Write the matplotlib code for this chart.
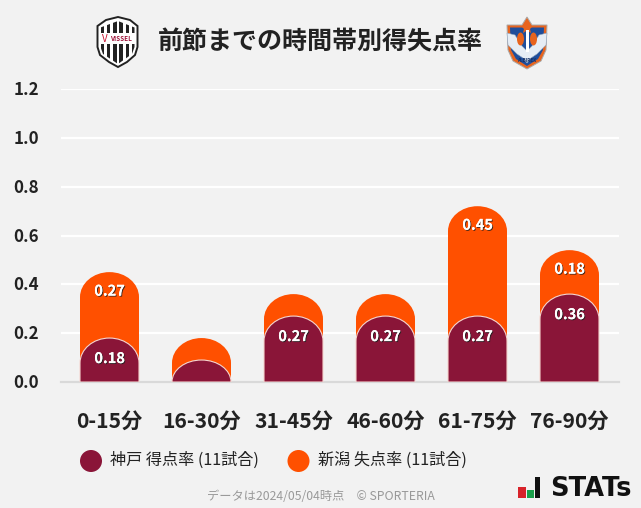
import numpy as np
import matplotlib
matplotlib.use("Agg")
import matplotlib.pyplot as plt
from matplotlib.path import Path
from matplotlib.patches import PathPatch, Ellipse, Polygon, Rectangle
from matplotlib.transforms import ScaledTranslation
import matplotlib.patheffects as pe

plt.rcParams['font.family'] = ['Noto Sans CJK JP', 'DejaVu Sans']

categories = ['0-15分', '16-30分', '31-45分', '46-60分', '61-75分', '76-90分']
kobe_scored = [0.18, 0.09, 0.27, 0.27, 0.27, 0.36]
niigata_conceded = [0.27, 0.09, 0.09, 0.09, 0.45, 0.18]
kobe_labels = ['0.18', '', '0.27', '0.27', '0.27', '0.36']
niigata_labels = ['0.27', '', '', '', '0.45', '0.18']
yticks = [0, 0.2, 0.4, 0.6, 0.8, 1.0, 1.2]
title = '前節までの時間帯別得失点率'
legend_labels = ['神戸 得点率 (11試合)', '新潟 失点率 (11試合)']
footer = 'データは2024/05/04時点　© SPORTERIA'

BG = '#f2f2f2'
DARK = '#8a1538'
ORANGE = '#ff5000'
W, H = 641, 508

fig = plt.figure(figsize=(W/100, H/100), dpi=100, facecolor=BG)
ov = fig.add_axes([0, 0, 1, 1], zorder=0)
ov.set_xlim(0, W); ov.set_ylim(H, 0); ov.axis('off')

ax = fig.add_axes([61/W, (H-382)/H, (619-61)/W, (382-89)/H], zorder=1)
ax.patch.set_alpha(0)
ax.set_xlim((61-109.5)/92, (619-109.5)/92)
ax.set_ylim(0, 1.2)

PX_PER_UNIT = 293/1.2
BAR_W = 59/92
RY = 25/PX_PER_UNIT

def round_bar(x, top, width=BAR_W):
    hw = width/2
    ry = min(RY, top)
    k = 0.5523
    verts = [(x-hw, 0), (x-hw, top-ry),
             (x-hw, top-ry+k*ry), (x-k*hw, top), (x, top),
             (x+k*hw, top), (x+hw, top-ry+k*ry), (x+hw, top-ry),
             (x+hw, 0), (x-hw, 0)]
    codes = [Path.MOVETO, Path.LINETO, Path.CURVE4, Path.CURVE4, Path.CURVE4,
             Path.CURVE4, Path.CURVE4, Path.CURVE4, Path.LINETO, Path.CLOSEPOLY]
    return Path(verts, codes)

for y in yticks[1:]:
    ax.axhline(y, color='white', lw=1.6, zorder=1)
ax.axhline(0, color='#d9d9d9', lw=1.6, zorder=1, clip_on=False)

shadow = [pe.withSimplePatchShadow(offset=(0.7, -0.7), shadow_rgbFace='#222222', alpha=0.85), pe.Normal()]
for i, (a, b) in enumerate(zip(kobe_scored, niigata_conceded)):
    total = a + b
    ax.add_patch(PathPatch(round_bar(i, total), fc=ORANGE, ec='none', zorder=2))
    ax.add_patch(PathPatch(round_bar(i, a), fc=DARK, ec='#f5d5cf', lw=0.8, zorder=3))
    if kobe_labels[i]:
        ax.text(i, a-20/PX_PER_UNIT, kobe_labels[i], ha='center', va='center', color='white',
                fontsize=10.5, fontweight='bold', zorder=5, path_effects=shadow)
    if niigata_labels[i]:
        ax.text(i, total-18.5/PX_PER_UNIT, niigata_labels[i], ha='center', va='center', color='white',
                fontsize=10.5, fontweight='bold', zorder=5, path_effects=shadow)

for s in ax.spines.values():
    s.set_visible(False)
ax.set_xticks(range(len(categories)))
ax.set_xticklabels(categories, fontsize=15.2, fontweight='bold', color='#222222')
ax.tick_params(axis='x', length=0, pad=21)
ax.set_yticks(yticks)
ax.set_yticklabels([f'{v:.1f}' for v in yticks], fontsize=12.2, fontweight='bold', color='#222222')
ax.tick_params(axis='y', length=0, pad=16)
up = ScaledTranslation(0, 1/100, fig.dpi_scale_trans)
for lab in ax.get_yticklabels():
    lab.set_transform(lab.get_transform() + up)

# Title
ov.text(320.5, 42.5, title, ha='center', va='center', fontsize=18, fontweight='bold', color='#222222')

# Vissel crest
sx = [97.5, 106, 118, 130, 137.5, 137.5, 135, 127, 118, 109, 100, 97.5]
sy = [26, 20, 17, 20, 26, 47, 55, 62, 67, 62, 55, 47]
ov.add_patch(Polygon(list(zip(sx, sy)), closed=True, fc='white', ec='#222222', lw=1.4))
ix = [100.5, 118, 134.5, 134.5, 132, 118, 103, 100.5]
iy = [27.5, 21, 27.5, 47, 54, 64, 54, 47]
clip = Polygon(list(zip(ix, iy)), closed=True, transform=ov.transData)
for x0 in np.arange(100.8, 135, 6.2):
    r = Rectangle((x0, 18), 3.4, 50, fc='#222222', ec='none')
    ov.add_patch(r); r.set_clip_path(clip)
ov.add_patch(Rectangle((99.3, 33), 37, 11, fc='white', ec='none'))
ov.text(120.8, 38.7, 'VISSEL', ha='center', va='center', fontsize=4.6, fontweight='bold', color='#a0163c')
ov.text(104.5, 38.5, 'V', ha='center', va='center', fontsize=7, color='#c8102e')

# Albirex crest
ov.add_patch(Polygon([(507,25),(522,25),(527,17),(532,25),(547,25),(546,50),(541,61),(527,69),(513,61),(508,50)],
                     closed=True, fc='#e8641e', ec='#aaaaaa', lw=0.7))
ov.add_patch(Polygon([(510,27.5),(544,27.5),(543,50),(538,59),(527,66),(516,59),(511,50)],
                     closed=True, fc='#1f4e9c', ec='none'))
ov.add_patch(Polygon([(527,21),(529,26),(533,26),(530,29),(531,33),(527,30.5),(523,33),(524,29),(521,26),(525,26)],
                     closed=True, fc='#e8641e', ec='none'))
ov.add_patch(Polygon([(507,33),(515,35),(522,46),(527,51),(532,46),(539,35),(547,33),(546,45),(537,54),(531,58),(527,63),(523,58),(517,54),(508,45)],
                     closed=True, fc='#e6edf5', ec='#8fa5c0', lw=0.4))
ov.add_patch(Ellipse((520.5, 39), 7, 13, fc='#e8641e', ec='none'))
ov.add_patch(Ellipse((533.5, 39), 7, 13, fc='#e8641e', ec='none'))
ov.add_patch(Rectangle((525.5, 30), 3, 22, fc='white', ec='none'))
ov.text(527, 60.5, 'ALBIREX', ha='center', va='center', fontsize=3.4, color='#16336b', fontweight='bold')

# Legend
ov.add_patch(Ellipse((91, 461), 22, 22, fc=DARK, ec='none'))
ov.add_patch(Ellipse((298.5, 461), 22, 22, fc=ORANGE, ec='none'))
ov.text(110, 460.5, legend_labels[0], ha='left', va='center', fontsize=11.6, color='#222222')
ov.text(318, 460.5, legend_labels[1], ha='left', va='center', fontsize=11.6, color='#222222')

# Footer
ov.text(320.5, 497, footer, ha='center', va='center', fontsize=8.8, color='#999999')

# STATS mark
ov.add_patch(Rectangle((518, 487), 7.5, 10.5, fc='#d8232a', ec='none'))
ov.add_patch(Rectangle((527, 490), 6.5, 7.5, fc='#1aa04b', ec='none'))
ov.add_patch(Rectangle((534.5, 477), 5, 20.5, fc='#111111', ec='none'))
ov.text(590.5, 488.5, 'STATs', ha='center', va='center', fontsize=18.5, fontweight='bold',
        family='DejaVu Sans', color='#111111')

fig.savefig('out.png', dpi=100, facecolor=BG)
